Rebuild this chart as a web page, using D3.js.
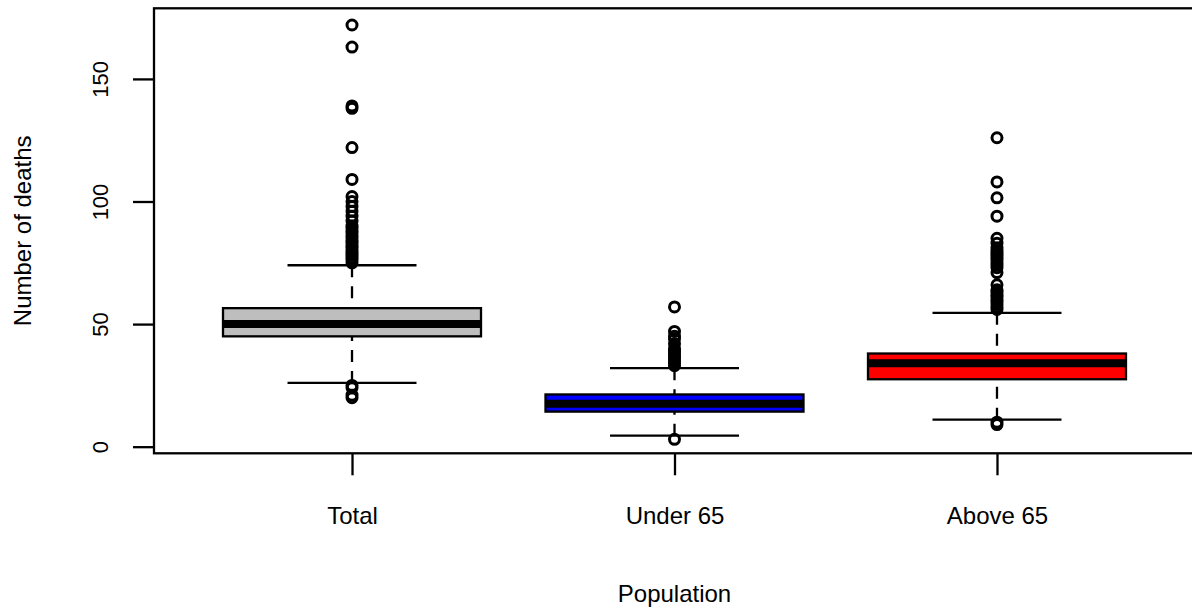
<!DOCTYPE html>
<html>
<head>
<meta charset="utf-8">
<script src="https://cdn.jsdelivr.net/npm/d3@7"></script>
<style>
    html, body { margin: 0; padding: 0; background: #fff; }
    svg { display: block; }
    text { font-family: 'Liberation Sans', Arial, sans-serif; fill: #000; }
</style>
</head>
<body>
<div id="chart"></div>
<script>
// data
const categories = ['Total', 'Under 65', 'Above 65'];
const lowerWhisker = [26, 4.5, 11];
const firstQuartile = [45, 14.3, 27.5];
const medians = [50, 17.5, 34];
const thirdQuartile = [56.5, 21.3, 38];
const upperWhisker = [74, 32, 54.6];
const outliersTotal = [172, 163, 139, 138, 122, 109, 102, 100, 98, 96, 94, 92, 90,
    89, 88, 87, 86, 85, 84, 83, 82, 81, 80, 79, 78, 77, 76, 75, 25, 24, 21, 20];
const outliersUnder65 = [57, 47, 45, 44, 42, 40, 39, 38, 37, 36, 35, 34, 33, 3];
const outliersAbove65 = [126, 108, 101.5, 94, 85, 83, 81, 80, 79, 78, 77, 76, 75, 74, 73, 71,
    66, 64, 63, 62, 61, 60, 59, 58, 57, 56, 10, 9];
const yTicks = [0, 50, 100, 150];
const xTitle = 'Population';
const yTitle = 'Number of deaths';

// colours of the boxes
const boxColors = ['#bebebe', '#0000ff', '#ff0000'];

// building one record per box from the arrays
const boxes = categories.map((c, i) => ({
    name: c,
    idx: i + 1,
    lo: lowerWhisker[i],
    q1: firstQuartile[i],
    med: medians[i],
    q3: thirdQuartile[i],
    hi: upperWhisker[i],
    out: [outliersTotal, outliersUnder65, outliersAbove65][i],
    fill: boxColors[i]
}));

// layout
const width = 1192;
const height = 607;
const plotArea = {l: 154, r: 1195, t: 8.3, b: 453.3};
const lineW = 2.3;

const svg = d3.select('#chart')
    .append('svg')
    .attr('width', width)
    .attr('height', height);

// scales (R style: data range padded)
const scaleX = d3.scaleLinear()
    .domain([0.386, 3.614])
    .range([plotArea.l, plotArea.r]);
const scaleY = d3.scaleLinear()
    .domain([-2.7, 178.8])
    .range([plotArea.b, plotArea.t]);

const boxHalf = scaleX(1.4) - scaleX(1);
const stapleHalf = scaleX(1.2) - scaleX(1);

// boxes
const g = svg.selectAll('.box')
    .data(boxes)
    .enter()
    .append('g')
    .attr('class', 'box');

// dashed whiskers, drawn from the whisker end to the box
g.append('line')
    .attr('x1', d => scaleX(d.idx)).attr('x2', d => scaleX(d.idx))
    .attr('y1', d => scaleY(d.hi)).attr('y2', d => scaleY(d.q3))
    .style('stroke', '#000').style('stroke-width', lineW)
    .style('stroke-dasharray', '12,9');
g.append('line')
    .attr('x1', d => scaleX(d.idx)).attr('x2', d => scaleX(d.idx))
    .attr('y1', d => scaleY(d.lo)).attr('y2', d => scaleY(d.q1))
    .style('stroke', '#000').style('stroke-width', lineW)
    .style('stroke-dasharray', '12,9');

// staples
['hi', 'lo'].forEach(k => {
    g.append('line')
        .attr('x1', d => scaleX(d.idx) - stapleHalf)
        .attr('x2', d => scaleX(d.idx) + stapleHalf)
        .attr('y1', d => scaleY(d[k])).attr('y2', d => scaleY(d[k]))
        .style('stroke', '#000').style('stroke-width', lineW);
});

// box body
g.append('rect')
    .attr('x', d => scaleX(d.idx) - boxHalf)
    .attr('y', d => scaleY(d.q3))
    .attr('width', boxHalf * 2)
    .attr('height', d => scaleY(d.q1) - scaleY(d.q3))
    .style('fill', d => d.fill)
    .style('stroke', '#000')
    .style('stroke-width', lineW);

// median
g.append('line')
    .attr('x1', d => scaleX(d.idx) - boxHalf)
    .attr('x2', d => scaleX(d.idx) + boxHalf)
    .attr('y1', d => scaleY(d.med)).attr('y2', d => scaleY(d.med))
    .style('stroke', '#000').style('stroke-width', 8);

// outliers
g.selectAll('.outlier')
    .data(d => d.out.map(v => ({idx: d.idx, v: v})))
    .enter()
    .append('circle')
    .attr('class', 'outlier')
    .attr('cx', d => scaleX(d.idx))
    .attr('cy', d => scaleY(d.v))
    .attr('r', 5)
    .style('fill', 'none')
    .style('stroke', '#000')
    .style('stroke-width', 3);

// frame (right side falls just outside the picture)
svg.append('rect')
    .attr('x', plotArea.l)
    .attr('y', plotArea.t)
    .attr('width', plotArea.r - plotArea.l)
    .attr('height', plotArea.b - plotArea.t)
    .style('fill', 'none')
    .style('stroke', '#000')
    .style('stroke-width', lineW);

// y axis
const axisY = d3.axisLeft(scaleY)
    .tickValues(yTicks)
    .tickSize(21)
    .tickFormat(d => d);
const axisYNode = svg.append('g')
    .attr('class', 'axis axis-y')
    .attr('transform', `translate(${plotArea.l},0)`)
    .call(axisY);
axisYNode.select('.domain').remove();
axisYNode.selectAll('.tick line').style('stroke', '#000').style('stroke-width', lineW);
axisYNode.selectAll('.tick text')
    .attr('x', 0).attr('y', 0).attr('dy', null)
    .attr('transform', 'translate(-46,0) rotate(-90)')
    .style('text-anchor', 'middle')
    .style('font-size', '22px')
    .style('font-family', "'Liberation Sans', Arial, sans-serif")
    .style('fill', '#000');

// x axis
const axisX = d3.axisBottom(scaleX)
    .tickValues(boxes.map(d => d.idx))
    .tickSize(22)
    .tickFormat((d, i) => categories[i]);
const axisXNode = svg.append('g')
    .attr('class', 'axis axis-x')
    .attr('transform', `translate(0,${plotArea.b})`)
    .call(axisX);
axisXNode.select('.domain').remove();
axisXNode.selectAll('.tick line').style('stroke', '#000').style('stroke-width', lineW);
axisXNode.selectAll('.tick text')
    .attr('y', 71).attr('dy', null)
    .style('font-size', '24px')
    .style('font-family', "'Liberation Sans', Arial, sans-serif")
    .style('fill', '#000');

// axis titles
svg.append('text')
    .attr('x', scaleX(2))
    .attr('y', 601.5)
    .style('text-anchor', 'middle')
    .style('font-size', '24px')
    .text(xTitle);
svg.append('text')
    .attr('transform', `translate(31,${(plotArea.t + plotArea.b) / 2}) rotate(-90)`)
    .style('text-anchor', 'middle')
    .style('font-size', '24px')
    .text(yTitle);
</script>
</body>
</html>
